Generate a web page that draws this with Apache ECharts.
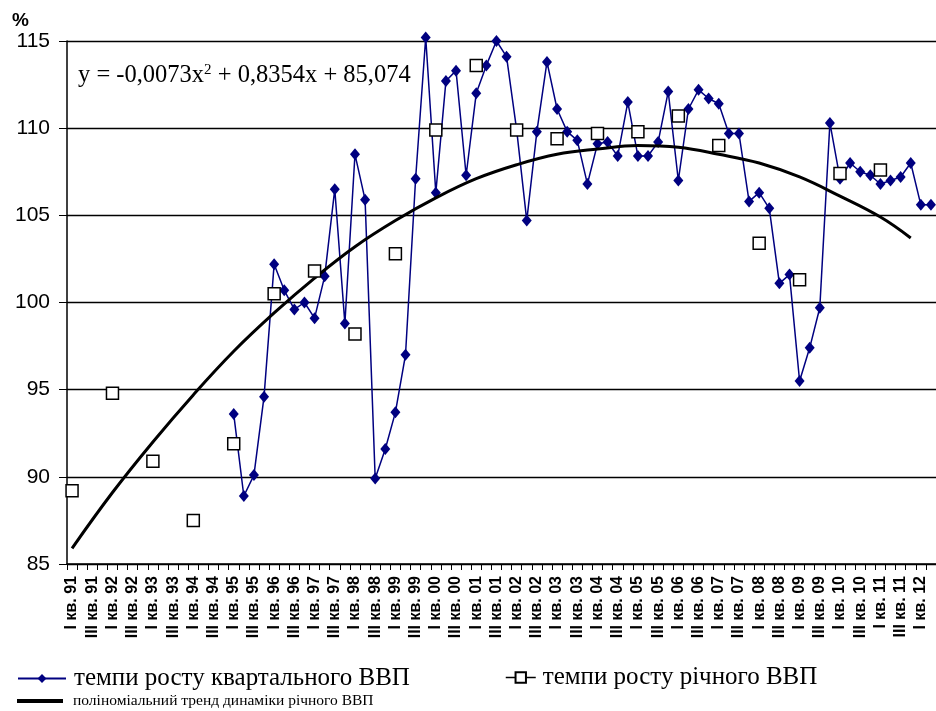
<!DOCTYPE html>
<html>
<head>
<meta charset="utf-8">
<script src="https://cdn.jsdelivr.net/npm/echarts@6/dist/echarts.min.js"></script>
<style>
html,body{margin:0;padding:0;background:#fff;}
#chart{width:936px;height:711px;}
</style>
</head>
<body>
<div id="chart"></div>
<script>
// ---- data ----
const years = ['91','92','93','94','95','96','97','98','99','00','01','02','03','04','05','06','07','08','09','10','11','12'];
const quarterNames = ['I','II','III','IV'];
const categoryCount = 86; // I кв. 91 .. II кв. 12

const quarterlyStart = 'I кв. 95';
const quarterlyValues = [
  93.6, 88.9, 90.1, 94.6,
  102.2, 100.7, 99.6, 100.0,
  99.1, 101.5, 106.5, 98.8,
  108.5, 105.9, 89.9, 91.6,
  93.7, 97.0, 107.1, 115.2,
  106.3, 112.7, 113.3, 107.3,
  112.0, 113.6, 115.0, 114.1,
  109.9, 104.7, 109.8, 113.8,
  111.1, 109.8, 109.3, 106.8,
  109.1, 109.2, 108.4, 111.5,
  108.4, 108.4, 109.2, 112.1,
  107.0, 111.1, 112.2, 111.7,
  111.4, 109.7, 109.7, 105.8,
  106.3, 105.4, 101.1, 101.6,
  95.5, 97.4, 99.7, 110.3,
  107.1, 108.0, 107.5, 107.3,
  106.8, 107.0, 107.2, 108.0,
  105.6, 105.6
];

const annualYears = ['91','92','93','94','95','96','97','98','99','00','01','02','03','04','05','06','07','08','09','10','11'];
const annualValues = [89.2, 94.8, 90.9, 87.5, 91.9, 100.5, 101.8, 98.2, 102.8, 109.9, 113.6, 109.9, 109.4, 109.7, 109.8, 110.7, 109.0, 103.4, 101.3, 107.4, 107.6];

const trendCategories = ['I кв. 91','I кв. 92','I кв. 93','I кв. 94','I кв. 95','I кв. 96','I кв. 97','I кв. 98','I кв. 99','I кв. 00','I кв. 01','I кв. 02','I кв. 03','I кв. 04','I кв. 05','I кв. 06','I кв. 07','I кв. 08','I кв. 09','I кв. 10','I кв. 11','IV кв. 11'];
const trendValues = [85.9, 89.1, 92.0, 94.7, 97.2, 99.4, 101.4, 103.2, 104.7, 106.0, 107.1, 107.9, 108.5, 108.8, 109.0, 108.9, 108.5, 108.0, 107.2, 106.1, 104.9, 103.7];

const yTicks = {min: 85, max: 115, step: 5};
const equationText = '{a|y = -0,0073x}{s|2}{a| + 0,8354x + 85,074}';
const seriesNames = ['темпи росту квартального ВВП', 'темпи росту річного ВВП', 'поліноміальний тренд динаміки річного ВВП'];

// ---- build ----
const categories = [];
years.forEach(y => quarterNames.forEach(q => categories.push(q + ' кв. ' + y)));
categories.length = categoryCount;

const qStartIdx = categories.indexOf(quarterlyStart);
const quarterlyData = quarterlyValues.map((v, i) => [categories[qStartIdx + i], v]);
const annualData = annualValues.map((v, i) => ['I кв. ' + annualYears[i], v]);
const trendData = trendValues.map((v, i) => [trendCategories[i], v]);

const chart = echarts.init(document.getElementById('chart'), null, {renderer: 'canvas'});
const serif = 'Liberation Serif, Times New Roman, serif';
const sans = 'Liberation Sans, Arial, sans-serif';

const option = {
  animation: false,
  backgroundColor: '#fff',
  grid: {left: 67, right: 0, top: 41, bottom: 147},
  xAxis: {
    type: 'category',
    data: categories,
    boundaryGap: true,
    axisLine: {lineStyle: {color: '#000', width: 1.5}},
    axisTick: {show: true, interval: 0, length: 6, lineStyle: {color: '#000', width: 1}},
    axisLabel: {interval: 1, rotate: 90, margin: 12, fontFamily: sans, fontWeight: 'bold', fontSize: 16, color: '#000'},
    splitLine: {show: false}
  },
  yAxis: {
    type: 'value',
    min: yTicks.min, max: yTicks.max, interval: yTicks.step,
    name: '%',
    nameLocation: 'end',
    nameGap: 8,
    nameTextStyle: {fontFamily: sans, fontWeight: 'bold', fontSize: 19, color: '#000', align: 'right', verticalAlign: 'bottom', padding: [0, 38, 0, 0]},
    axisLine: {show: true, lineStyle: {color: '#000', width: 1.5}},
    axisTick: {show: true, length: 8, lineStyle: {color: '#000', width: 1}},
    axisLabel: {margin: 17, fontFamily: sans, fontSize: 21, color: '#000'},
    splitLine: {show: true, lineStyle: {color: '#000', width: 1.3}}
  },
  legend: [
    {
      left: 17, top: 666, padding: 0, itemWidth: 48, itemHeight: 11, itemGap: 0,
      data: [{name: seriesNames[0]}],
      textStyle: {fontFamily: serif, fontSize: 25, color: '#000', padding: [0, 0, 0, 3]}
    },
    {
      left: 505, top: 665, padding: 0, itemWidth: 30, itemHeight: 13, itemGap: 0,
      data: [{name: seriesNames[1], lineStyle: {color: '#000', width: 1.5, opacity: 1}}],
      textStyle: {fontFamily: serif, fontSize: 25, color: '#000', padding: [0, 0, 0, 2]}
    },
    {
      left: 17, top: 693, padding: 0, itemWidth: 46, itemHeight: 4, itemGap: 0,
      data: [{name: seriesNames[2], icon: 'rect', itemStyle: {color: '#000'}}],
      textStyle: {fontFamily: serif, fontSize: 15.5, color: '#000', padding: [0, 0, 0, 5]}
    }
  ],
  graphic: [
    {
      type: 'text', left: 78, top: 63,
      style: {
        text: equationText,
        fill: '#000',
        rich: {
          a: {fontFamily: serif, fontSize: 24.5, color: '#000', verticalAlign: 'bottom'},
          s: {fontFamily: serif, fontSize: 15, color: '#000', verticalAlign: 'top'}
        }
      }
    }
  ],
  series: [
    {
      name: seriesNames[0],
      type: 'line',
      data: quarterlyData,
      symbol: 'diamond',
      symbolSize: [10, 12],
      showAllSymbol: true,
      clip: false,
      lineStyle: {color: '#000080', width: 1.5},
      itemStyle: {color: '#000080'},
      z: 2
    },
    {
      name: seriesNames[2],
      type: 'line',
      data: trendData,
      symbol: 'none',
      smooth: 0.4,
      lineStyle: {color: '#000', width: 3},
      itemStyle: {color: '#000'},
      z: 3
    },
    {
      name: seriesNames[1],
      type: 'line',
      data: annualData,
      symbol: 'rect',
      symbolSize: 12,
      showAllSymbol: true,
      clip: false,
      lineStyle: {opacity: 0, width: 0},
      itemStyle: {color: '#fff', borderColor: '#000', borderWidth: 1.5},
      z: 4
    }
  ]
};
chart.setOption(option);
</script>
</body>
</html>
